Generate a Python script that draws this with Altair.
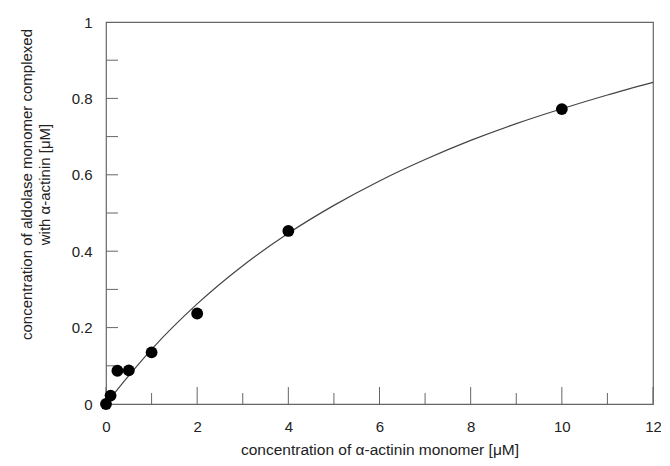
import altair as alt
import pandas as pd

# measured data points
pt_x = [0, 0.1, 0.25, 0.5, 1, 2, 4, 10]
pt_y = [0.0, 0.022, 0.087, 0.088, 0.135, 0.237, 0.453, 0.772]

# fitted curve
cv_x = [0, 0.5, 1, 2, 3, 4, 5, 6, 7, 8, 9, 10, 11, 12]
cv_y = [0, 0.074, 0.143, 0.262, 0.362, 0.447, 0.520, 0.584, 0.640, 0.690, 0.734, 0.773, 0.809, 0.842]

# tick positions
x_major = [0, 2, 4, 6, 8, 10, 12]
x_minor = [1, 3, 5, 7, 9, 11]
y_ticks = [0.1, 0.2, 0.3, 0.4, 0.5, 0.6, 0.7, 0.8, 0.9]

W, H = 547, 382
FONT = "Liberation Sans"
GRAY = "#666666"

pts = pd.DataFrame({"x": pt_x, "y": pt_y})
cv = pd.DataFrame({"x": cv_x, "y": cv_y})

xs = alt.Scale(domain=[0, 12], nice=False, zero=False)
ys = alt.Scale(domain=[0, 1], nice=False, zero=False)

xaxis = alt.Axis(
    title="concentration of α-actinin monomer [μM]",
    values=x_major, ticks=False, domain=False, grid=False,
    labelPadding=15, titlePadding=8, labelFontSize=15, titleFontSize=15.5,
    labelFont=FONT, titleFont=FONT, titleFontWeight="normal",
    labelColor="#222222", titleColor="#222222", labelFlush=False,
)
yaxis = alt.Axis(
    title=["concentration of aldolase monomer complexed", "with α-actinin [μM]"],
    values=[0, 0.2, 0.4, 0.6, 0.8, 1], ticks=False, domain=False, grid=False,
    labelPadding=14, labelFontSize=15, titleFontSize=15,
    labelFont=FONT, titleFont=FONT, titleFontWeight="normal",
    labelColor="#222222", titleColor="#222222", labelFlush=False,
    labelExpr="datum.value == 0 || datum.value == 1 ? format(datum.value, 'd') : format(datum.value, '.1f')",
    titleX=-72, titleY=162, titleBaseline="bottom", titleLineHeight=18,
)

curve = alt.Chart(cv).mark_line(color="#444444", strokeWidth=1.2, interpolate="monotone").encode(
    x=alt.X("x:Q", scale=xs, axis=xaxis),
    y=alt.Y("y:Q", scale=ys, axis=yaxis),
)

points = alt.Chart(pts).mark_circle(color="black", opacity=1, size=140).encode(
    x=alt.X("x:Q", scale=xs),
    y=alt.Y("y:Q", scale=ys),
)

xmaj = alt.Chart(pd.DataFrame({"x": x_major})).mark_rule(color=GRAY, strokeWidth=1).encode(
    x=alt.X("x:Q", scale=xs), y=alt.value(H), y2=alt.value(H - 17)
)
xmin = alt.Chart(pd.DataFrame({"x": x_minor})).mark_rule(color=GRAY, strokeWidth=1).encode(
    x=alt.X("x:Q", scale=xs), y=alt.value(H), y2=alt.value(H - 11)
)
ytk = alt.Chart(pd.DataFrame({"y": y_ticks})).mark_rule(color=GRAY, strokeWidth=1).encode(
    y=alt.Y("y:Q", scale=ys), x=alt.value(0), x2=alt.value(12)
)

chart = alt.layer(xmaj, xmin, ytk, curve, points).properties(
    width=W, height=H,
    autosize=alt.AutoSizeParams(type="none"),
    padding={"left": 98, "top": 14, "right": 8, "bottom": 54},
    background="white",
).configure_view(stroke=GRAY, strokeWidth=1.2)

chart.save("out.html", embed_options={"renderer": "svg", "actions": False})
